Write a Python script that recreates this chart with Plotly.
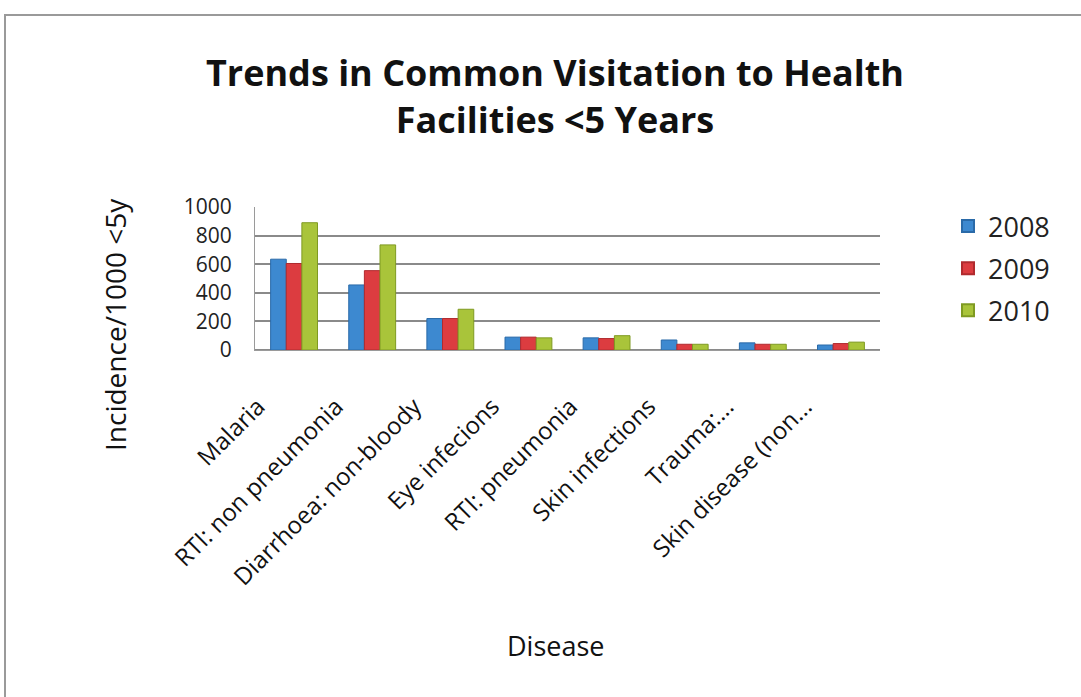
import plotly.graph_objects as go

categories = ["Malaria", "RTI: non pneumonia", "Diarrhoea: non-bloody", "Eye infecions",
              "RTI: pneumonia", "Skin infections", "Trauma:...", "Skin disease (non..."]
years = ["2008", "2009", "2010"]
v2008 = [635, 455, 220, 90, 85, 70, 50, 35]
v2009 = [605, 555, 220, 90, 80, 40, 40, 45]
v2010 = [890, 735, 285, 85, 100, 40, 40, 55]
colors = ["#3d89d0", "#dc3c40", "#a9c43a"]
lines = ["#2a6aa8", "#b02a2e", "#7f9a22"]

fig = go.Figure()
for i, (y, vals) in enumerate(zip(years, [v2008, v2009, v2010])):
    fig.add_trace(go.Bar(x=categories, y=vals, name=y, legendgroup=y,
                         marker=dict(color=colors[i], line=dict(color=lines[i], width=1))))

font = "Open Sans"
L, R, T, B = 255, 201, 207, 347
W, H = 1081, 697
pw, ph = W - L - R, H - T - B


def px(x):
    return (x - L) / pw


def py(y):
    return (H - B - y) / ph


fig.update_layout(
    width=W, height=H,
    paper_bgcolor="white", plot_bgcolor="white",
    margin=dict(l=L, r=R, t=T, b=B),
    barmode="group", bargap=0.4, bargroupgap=0,
    title=dict(text="<b>Trends in Common Visitation to Health<br>Facilities <5 Years</b>",
               x=555 / W, xanchor="center", y=1 - 86 / H, yanchor="middle", yref="container",
               font=dict(family=font, size=36, color="#111")),
    legend=dict(x=px(948), xanchor="left", y=py(202), yanchor="top",
                font=dict(family=font, size=27, color="#222"),
                tracegroupgap=4, itemsizing="constant"),
    showlegend=True,
)
fig.update_yaxes(range=[0, 1000], dtick=200, showgrid=True, gridcolor="#8a8a8a", gridwidth=2,
                 tickfont=dict(family=font, size=21, color="#222"), ticks="", zeroline=True,
                 zerolinecolor="#8a8a8a", zerolinewidth=2, ticklabelstandoff=18,
                 showline=True, linecolor="#9a9a9a", linewidth=1)
fig.update_xaxes(tickangle=-45, tickfont=dict(family=font, size=24, color="#111"),
                 ticklabelstandoff=32, ticklabelshift=-36,
                 showline=True, linecolor="#9a9a9a", linewidth=1)
fig.add_annotation(text="Incidence/1000 <5y", textangle=-90, xref="paper", yref="paper",
                   x=px(115), y=py(325), xanchor="center", yanchor="middle", showarrow=False,
                   font=dict(family=font, size=28, color="#111"))
fig.add_annotation(text="Disease", xref="paper", yref="paper",
                   x=px(555), y=py(645), xanchor="center", yanchor="middle", showarrow=False,
                   font=dict(family=font, size=27, color="#111"))
fig.add_shape(type="rect", xref="paper", yref="paper", x0=px(5), x1=px(1100), y0=py(720), y1=py(15),
              line=dict(color="#9a9a9a", width=2), fillcolor="rgba(0,0,0,0)", layer="below")
fig.write_html("out.html")
